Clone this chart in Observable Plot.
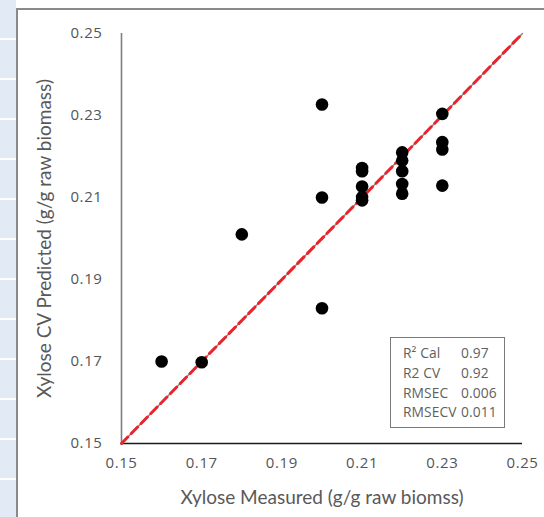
<!DOCTYPE html>
<html>
<head>
<meta charset="utf-8">
<script src="https://cdn.jsdelivr.net/npm/d3@7"></script>
<script src="https://cdn.jsdelivr.net/npm/@observablehq/plot@0.6"></script>
<style>
  html, body { margin: 0; padding: 0; background: #fff; }
  #wrap { position: relative; width: 544px; height: 517px; overflow: hidden; background: #fff; font-family: Lato, "Open Sans", sans-serif; }
  #strip { position: absolute; left: 0; top: 0; width: 16px; height: 517px;
    background: repeating-linear-gradient(to bottom, #e2eaf5 0px, #e2eaf5 38px, #ffffff 38px, #ffffff 40px); }
  #frame { position: absolute; left: 16px; top: 8px; width: 620px; height: 620px; border: 2px solid #8a8a8a; box-sizing: border-box; }
  #chart { position: absolute; left: 0; top: 0; }
  #stats { position: absolute; left: 390px; top: 337px; width: 115px; height: 91px; box-sizing: border-box;
    border: 1.5px solid #7a7a7a; background: #fff; padding: 5px 0 0 12px; color: #5f5f5f; font-size: 13.8px; line-height: 19.8px; letter-spacing: 0.1px; font-family: "Open Sans", sans-serif; }
  #stats .row { display: flex; white-space: nowrap; }
  #stats .lab { width: 58px; flex: none; }
  #chart svg g[aria-label="x-axis tick label"] text,
  #chart svg g[aria-label="y-axis tick label"] text { font-size: 15px !important; font-family: "Open Sans", sans-serif; letter-spacing: 0.6px; }
</style>
</head>
<body>
<div id="wrap">
  <div id="strip"></div>
  <div id="frame"></div>
  <div id="chart"></div>
  <div id="stats"></div>
</div>
<script>
// Data
const measured  = [0.16, 0.17, 0.18, 0.20, 0.20, 0.20, 0.21, 0.21, 0.21, 0.21, 0.21, 0.22, 0.22, 0.22, 0.22, 0.22, 0.23, 0.23, 0.23, 0.23];
const predicted = [0.170, 0.1698, 0.201, 0.2327, 0.210, 0.183, 0.2172, 0.2164, 0.2127, 0.2101, 0.2093, 0.2210, 0.2190, 0.2164, 0.2133, 0.2109, 0.2304, 0.2235, 0.2217, 0.2129];
const ticks = [0.15, 0.17, 0.19, 0.21, 0.23, 0.25];
const axisDomain = [0.15, 0.25];
const diagonal = [0.15, 0.25];
const xTitle = "Xylose Measured (g/g raw biomss)";
const yTitle = "Xylose CV Predicted (g/g raw biomass)";
const statLabels = ["R\u00B2 Cal", "R2 CV", "RMSEC", "RMSECV"];
const statValues = ["0.97", "0.92", "0.006", "0.011"];

const points = measured.map((m, i) => ({x: m, y: predicted[i]}));

const chart = Plot.plot({
  width: 544,
  height: 517,
  marginLeft: 121,
  marginRight: 22,
  marginTop: 33,
  marginBottom: 74,
  style: {background: "transparent", fontFamily: "Lato, 'Open Sans', sans-serif", overflow: "visible"},
  x: {domain: axisDomain},
  y: {domain: axisDomain},
  marks: [
    Plot.axisX({ticks, tickSize: 0, tickPadding: 14, tickFormat: d3.format(".2f"), fontSize: 15, fill: "#555", label: null}),
    Plot.axisY({ticks, tickSize: 0, tickPadding: 19, tickFormat: d3.format(".2f"), fontSize: 15, fill: "#555", label: null}),
    Plot.ruleX([axisDomain[0]], {stroke: "#7f7f7f", strokeWidth: 1.6}),
    Plot.ruleY([axisDomain[0]], {stroke: "#1a1a1a", strokeWidth: 1.4}),
    Plot.line(diagonal, {x: d => d, y: d => d, stroke: "#8a8a8a", strokeWidth: 1.5}),
    Plot.line(diagonal, {x: d => d, y: d => d, stroke: "#e8242c", strokeWidth: 3, strokeDasharray: "9,5"}),
    Plot.dot(points, {x: "x", y: "y", r: 6.3, fill: "#000", stroke: null}),
    Plot.text([xTitle], {frameAnchor: "bottom", lineAnchor: "middle", textAnchor: "middle", dy: 54, fontSize: 19, fill: "#595959"}),
    Plot.text([yTitle], {frameAnchor: "left", lineAnchor: "middle", textAnchor: "middle", dx: -77, rotate: -90, fontSize: 19, fill: "#595959", style: {letterSpacing: "1.1px"}})
  ]
});
document.getElementById("chart").appendChild(chart);

const stats = document.getElementById("stats");
statLabels.forEach((l, i) => {
  const row = document.createElement("div");
  row.className = "row";
  row.innerHTML = `<span class="lab">${l}</span><span>${statValues[i]}</span>`;
  stats.appendChild(row);
});
</script>
</body>
</html>
